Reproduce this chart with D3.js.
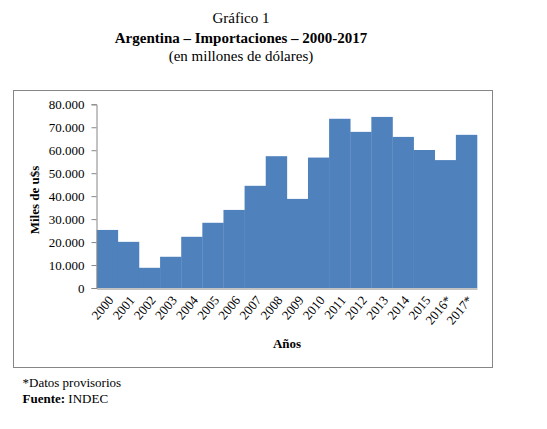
<!DOCTYPE html>
<html><head><meta charset="utf-8">
<script src="https://cdn.jsdelivr.net/npm/d3@7"></script>
<style>
html,body{margin:0;padding:0;background:#fff;}
svg{display:block;}
text{font-family:"Liberation Serif","Times New Roman",serif;fill:#000;}
</style></head>
<body>
<script>
const years = ["2000","2001","2002","2003","2004","2005","2006","2007","2008","2009","2010","2011","2012","2013","2014","2015","2016*","2017*"];
const imports = [25280,20100,8800,13600,22300,28400,34000,44500,57400,38800,56800,73700,68000,74500,65800,60100,55700,66700];
const yTicks = [0,10000,20000,30000,40000,50000,60000,70000,80000];
const titleLines = ["Gráfico 1","Argentina – Importaciones – 2000-2017","(en millones de dólares)"];

const W=547,H=429;
const svg=d3.select("body").append("svg").attr("width",W).attr("height",H);

// titles
const cx=241;
svg.append("text").attr("x",cx).attr("y",22.5).attr("text-anchor","middle").style("font-size","15px").text(titleLines[0]);
svg.append("text").attr("x",cx).attr("y",43).attr("text-anchor","middle").style("font-size","15px").style("font-weight","bold").text(titleLines[1]);
svg.append("text").attr("x",cx).attr("y",61).attr("text-anchor","middle").style("font-size","15px").text(titleLines[2]);

// chart frame
svg.append("rect").attr("x",13.5).attr("y",90.5).attr("width",479).attr("height",277)
  .attr("fill","none").attr("stroke","#868686").attr("stroke-width",1);

const x=d3.scaleBand().domain(years).range([96.7,477]).padding(0);
const y=d3.scaleLinear().domain([0,80000]).range([288,104.3]);

svg.append("g").selectAll("rect").data(imports).join("rect")
  .attr("x",(d,i)=>x(years[i])).attr("width",x.bandwidth()+0.3)
  .attr("y",d=>y(d)).attr("height",d=>y(0)-y(d)).attr("fill","#4F81BD");

// y axis
const fmt=d=>d===0?"0":d3.format(",")(d).replace(/,/g,".");
const ya=svg.append("g").attr("transform","translate(96.5,0)")
  .call(d3.axisLeft(y).tickValues(yTicks).tickFormat(fmt).tickSize(5).tickPadding(7));
ya.select(".domain").attr("stroke","#868686");
ya.selectAll(".tick line").attr("stroke","#868686");
ya.selectAll(".tick text").style("font-size","13px").style("font-family","Liberation Serif").attr("fill","#000");

// x axis
const xa=svg.append("g").attr("transform","translate(0,288.5)")
  .call(d3.axisBottom(x).tickSize(0).tickPadding(0));
xa.select(".domain").attr("stroke","#868686");
xa.selectAll(".tick text").style("font-size","13px").style("font-family","Liberation Serif").attr("fill","#000")
  .attr("text-anchor","end").attr("dy","0").attr("y",0)
  .attr("transform","translate(7,12) rotate(-50)");

svg.append("text").attr("transform","translate(39,200) rotate(-90)").attr("text-anchor","middle")
  .style("font-size","13px").style("font-weight","bold").text("Miles de u$s");
svg.append("text").attr("x",287).attr("y",348).attr("text-anchor","middle")
  .style("font-size","13px").style("font-weight","bold").text("Años");

svg.append("text").attr("x",22.5).attr("y",387).style("font-size","13px").text("*Datos provisorios");
const f=svg.append("text").attr("x",22.5).attr("y",403).style("font-size","13px");
f.append("tspan").style("font-weight","bold").text("Fuente:");
f.append("tspan").text(" INDEC");
</script>
</body></html>
